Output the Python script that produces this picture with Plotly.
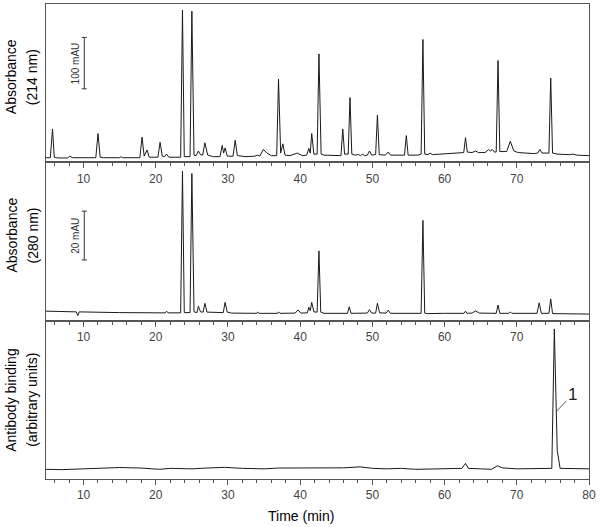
import plotly.graph_objects as go
from plotly.subplots import make_subplots

# chromatogram vertices: (time [min], signal)
# absorbance at 214 nm, mAU above the starting baseline
trace_214 = [
    (4.8, 1), (5.4, 1), (5.7, 57), (5.95, 2), (6.4, 0.5), (7.8, 0.5), (8.1, 4), (8.5, 1),
    (11.7, 1), (12.0, 48), (12.3, 2), (12.8, 1), (15.0, 1), (15.2, 3), (15.4, 1),
    (17.8, 1), (18.1, 41), (18.4, 4), (18.8, 16), (19.1, 2), (20.3, 2), (20.6, 31), (20.9, 4),
    (21.2, 3), (21.5, 8), (21.8, 2), (23.45, 2), (23.7, 288), (23.95, 3), (24.75, 3),
    (25.0, 286), (25.3, 6), (25.6, 5), (25.9, 14), (26.2, 7), (26.5, 6), (26.8, 30), (27.2, 6),
    (28.0, 3), (28.9, 3), (29.2, 25), (29.4, 10), (29.6, 20), (29.9, 4), (30.7, 4), (31.0, 35),
    (31.3, 5), (32.5, 3), (33.7, 4), (34.1, 6), (34.4, 4), (34.9, 17), (35.4, 10), (36.0, 5),
    (36.75, 5), (37.0, 154), (37.3, 10), (37.6, 28), (37.9, 6), (38.6, 5), (39.6, 10), (40.3, 5),
    (40.9, 6), (41.2, 19), (41.4, 10), (41.6, 48), (41.9, 8), (42.35, 8), (42.6, 203), (42.9, 8),
    (43.3, 6), (45.65, 5), (45.9, 57), (46.15, 8), (46.65, 8), (46.9, 118), (47.15, 8), (47.6, 6),
    (48.1, 7), (48.35, 5), (48.6, 8), (48.9, 5), (49.3, 6), (49.6, 14), (49.9, 6), (50.45, 7),
    (50.7, 84), (50.95, 7), (51.8, 6), (52.2, 12), (52.5, 6), (54.45, 6), (54.7, 44), (54.95, 6),
    (56.3, 6), (56.75, 8), (57.0, 231), (57.25, 8), (57.7, 7), (58.0, 10), (58.3, 7), (59.5, 8),
    (61.0, 9), (62.0, 10), (62.65, 11), (62.9, 40), (63.15, 12), (63.8, 11), (64.3, 14), (64.7, 11),
    (65.6, 11), (66.1, 17), (66.35, 14), (66.6, 17), (66.9, 12), (67.15, 12), (67.4, 190),
    (67.65, 13), (68.6, 13), (69.1, 33), (69.6, 14), (70.2, 11), (70.9, 10), (71.4, 9), (72.4, 9),
    (72.9, 10), (73.2, 17), (73.5, 10), (74.45, 10), (74.7, 156), (74.95, 10), (75.3, 9),
    (75.6, 8), (77.3, 7), (77.8, 8), (78.3, 6), (80.0, 5),
]

# absorbance at 280 nm, mAU
trace_280 = [
    (4.8, 0.6), (9.0, 0.3), (9.2, -1.2), (9.4, 0.3), (15.0, 0), (21.3, -0.1), (21.5, 0.6),
    (21.7, -0.1), (23.45, -0.1), (23.7, 58), (23.95, 0), (24.75, 0), (25.0, 57), (25.3, 0.3),
    (25.7, 0), (25.9, 2.6), (26.2, 0.3), (26.55, 0.2), (26.8, 3.8), (27.1, 0.2), (29.35, 0),
    (29.6, 4.2), (29.9, 0.2), (30.5, -0.2), (34.0, -0.3), (34.1, 0.2), (34.3, -0.3), (36.9, -0.3),
    (37.0, 0.3), (37.2, -0.3), (39.3, -0.2), (39.7, 1.1), (40.1, -0.2), (41.0, -0.1), (41.2, 2.2),
    (41.4, 0.8), (41.6, 4.2), (41.9, 0.3), (42.35, 0.2), (42.6, 25.3), (42.85, 0.2), (43.3, -0.3),
    (46.55, -0.3), (46.8, 2.4), (47.05, -0.3), (48.5, -0.3), (49.3, -0.2), (49.6, 1.2), (49.9, -0.2),
    (50.45, -0.2), (50.7, 3.8), (51.0, -0.1), (51.9, -0.2), (52.2, 1.0), (52.5, -0.3), (56.75, -0.3),
    (57.0, 37.8), (57.25, -0.2), (57.6, -0.4), (60.0, -0.3), (62.7, -0.3), (62.9, 0.6), (63.1, -0.3),
    (63.8, -0.2), (64.3, 0.7), (64.8, -0.2), (67.15, -0.3), (67.4, 3.1), (67.65, -0.3), (68.9, -0.3),
    (69.1, 0.3), (69.3, -0.3), (72.8, -0.3), (73.1, 4.0), (73.4, -0.3), (74.45, -0.3), (74.7, 5.6),
    (74.95, -0.4), (80.0, -0.6),
]

# antibody binding, arbitrary units
trace_binding = [
    (4.8, -1), (7.0, -1.3), (10.0, -0.5), (13.0, 0), (15.0, 0.8), (18.0, 0.3), (20.5, -1),
    (22.0, 0), (25.0, -0.5), (27.0, 0.3), (29.5, 1), (32.0, 0), (35.0, -0.5), (37.0, 0.3),
    (40.0, 0.5), (43.0, 0), (46.0, 0.5), (48.3, 1.5), (50.0, 0), (52.0, -0.5), (54.0, 0),
    (56.0, -1), (58.0, -0.5), (60.0, 0), (62.4, 0), (62.9, 5), (63.3, 0), (65.0, -0.5),
    (66.5, -1), (67.3, 2.6), (68.0, 0.5), (70.0, -0.5), (72.0, -0.5), (74.85, 0), (75.2, 140),
    (75.6, 18), (76.0, 0), (78.0, -0.5), (80.0, -0.5),
]

x_range = [4.8, 80]
inner_ticks = [10, 20, 30, 40, 50, 60, 70]
bottom_ticks = [10, 20, 30, 40, 50, 60, 70, 80]
y_ranges = [[-8, 300], [-3.3, 61.6], [-10.7, 148.3]]
# two-line y titles (outer line, inner line)
y_titles = [("Absorbance", "(214 nm)"), ("Absorbance", "(280 nm)"),
            ("Antibody binding", "(arbitrary units)")]
scale_bars = [(1, 135, 235, "100 mAU"), (2, 21.6, 41.6, "20 mAU")]  # row, low, high, label
scale_bar_x = 10.1
peak_label = (75.47, 57, "1")

line_col = "#555555"
font_family = "Liberation Sans, Arial, sans-serif"

fig = make_subplots(rows=3, cols=1, vertical_spacing=0)

for row, pts in enumerate([trace_214, trace_280, trace_binding], start=1):
    t, v = zip(*pts)
    fig.add_trace(go.Scatter(x=t, y=v, mode="lines", line=dict(color="#1a1a1a", width=1),
                             hoverinfo="skip"), row=row, col=1)

title_shift = [6, 6, 0]
for row in (1, 2, 3):
    ticks = bottom_ticks if row == 3 else inner_ticks
    fig.update_xaxes(range=x_range, tickmode="array", tickvals=ticks, ticks="outside", ticklen=5,
                     tickcolor=line_col, minor=dict(tick0=0, dtick=2, ticks="outside", ticklen=3,
                                                    tickcolor=line_col),
                     showline=True, linecolor=line_col, linewidth=1, mirror=True,
                     showgrid=False, zeroline=False,
                     tickfont=dict(size=12, color="#444444"), row=row, col=1)
    fig.update_yaxes(range=y_ranges[row - 1], showticklabels=False, ticks="", showline=True,
                     linecolor=line_col, linewidth=1, mirror=True, showgrid=False,
                     zeroline=False, row=row, col=1)
    yref = "y domain" if row == 1 else f"y{row} domain"
    for text, xs in zip(y_titles[row - 1], (-35, -14)):
        fig.add_annotation(text=text, xref="paper", yref=yref, x=0, y=0.5,
                           xanchor="center", yanchor="middle", xshift=xs,
                           yshift=title_shift[row - 1], textangle=-90,
                           showarrow=False, font=dict(size=14, color="black"))

# scale bars
for row, lo, hi, label in scale_bars:
    xr = "x" if row == 1 else f"x{row}"
    yr = "y" if row == 1 else f"y{row}"
    fig.add_shape(type="line", xref=xr, yref=yr, x0=scale_bar_x, x1=scale_bar_x, y0=lo, y1=hi,
                  line=dict(color="#333333", width=1))
    for yv in (lo, hi):
        fig.add_shape(type="line", xref=xr, yref=yr, x0=scale_bar_x - 0.35, x1=scale_bar_x + 0.35,
                      y0=yv, y1=yv, line=dict(color="#333333", width=1))
    fig.add_annotation(text=label, xref=xr, yref=yr, x=scale_bar_x, y=(lo + hi) / 2,
                       xshift=-9, textangle=-90, showarrow=False,
                       font=dict(size=10, color="#333333"))

# peak label in the binding trace
fig.add_annotation(text=peak_label[2], xref="x3", yref="y3", x=peak_label[0], y=peak_label[1],
                   showarrow=True, arrowhead=0, arrowwidth=0.8, arrowcolor="#333333",
                   ax=16, ay=-17, font=dict(size=17, color="#222222"))

fig.add_annotation(text="Time (min)", xref="paper", yref="paper", x=0.4705, y=0,
                   yanchor="middle", yshift=-37, showarrow=False,
                   font=dict(size=14, color="black"))

fig.update_layout(width=600, height=527, margin=dict(l=46, r=11, t=4, b=48),
                  plot_bgcolor="white", paper_bgcolor="white", showlegend=False,
                  font=dict(family=font_family))

# the page body has a default 8px margin; drop it so the figure fills the window
fig.write_html("out.html", config={"displayModeBar": False},
               post_script="document.body.style.margin='0';"
                           "document.body.style.overflow='hidden';")
